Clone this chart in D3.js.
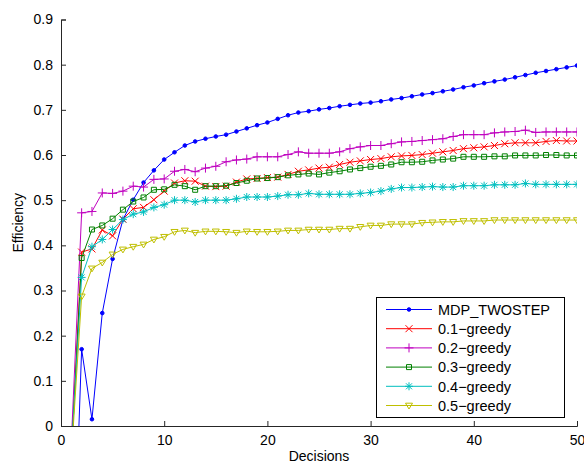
<!DOCTYPE html>
<html>
<head>
<meta charset="utf-8">
<script src="https://cdn.jsdelivr.net/npm/d3@7"></script>
<style>
  body { margin: 0; background: #fff; }
  text { font-family: "Liberation Sans", Arial, sans-serif; fill: #000; }
</style>
</head>
<body>
<script>
// x = decision number, 1..50
const decisions = d3.range(1, 51)
const xTicks = [0, 10, 20, 30, 40, 50]
const yTicks = [0, 0.1, 0.2, 0.3, 0.4, 0.5, 0.6, 0.7, 0.8, 0.9]

const seriesNames = ["MDP_TWOSTEP", "0.1\u2212greedy", "0.2\u2212greedy", "0.3\u2212greedy", "0.4\u2212greedy", "0.5\u2212greedy"]

const mdpTwostep = [-0.48, 0.17, 0.015, 0.25, 0.37, 0.457, 0.501, 0.539, 0.566, 0.590,
    0.606, 0.621, 0.630, 0.636, 0.641, 0.645, 0.652, 0.659, 0.666, 0.672,
    0.680, 0.688, 0.694, 0.697, 0.701, 0.704, 0.708, 0.711, 0.714, 0.716,
    0.719, 0.723, 0.726, 0.730, 0.734, 0.737, 0.741, 0.745, 0.750, 0.754,
    0.759, 0.763, 0.767, 0.772, 0.777, 0.782, 0.786, 0.790, 0.794, 0.798]
const greedy01 = [-0.07, 0.385, 0.392, 0.434, 0.421, 0.458, 0.481, 0.484, 0.501, 0.520,
    0.538, 0.543, 0.542, 0.531, 0.530, 0.531, 0.540, 0.547, 0.548, 0.550,
    0.551, 0.557, 0.564, 0.567, 0.571, 0.573, 0.579, 0.584, 0.587, 0.590,
    0.592, 0.596, 0.598, 0.599, 0.601, 0.604, 0.607, 0.610, 0.614, 0.616,
    0.618, 0.621, 0.625, 0.627, 0.627, 0.627, 0.630, 0.632, 0.631, 0.631]
const greedy02 = [-0.035, 0.472, 0.475, 0.516, 0.515, 0.520, 0.531, 0.529, 0.546, 0.547,
    0.564, 0.568, 0.563, 0.571, 0.575, 0.585, 0.589, 0.591, 0.596, 0.596,
    0.596, 0.601, 0.607, 0.604, 0.604, 0.604, 0.607, 0.614, 0.618, 0.621,
    0.621, 0.625, 0.629, 0.630, 0.632, 0.634, 0.636, 0.641, 0.645, 0.645,
    0.645, 0.649, 0.651, 0.652, 0.655, 0.650, 0.651, 0.651, 0.651, 0.651]
const greedy03 = [-0.07, 0.372, 0.435, 0.444, 0.459, 0.479, 0.497, 0.506, 0.523, 0.524,
    0.534, 0.531, 0.523, 0.531, 0.531, 0.532, 0.538, 0.543, 0.548, 0.549,
    0.551, 0.555, 0.557, 0.559, 0.557, 0.561, 0.564, 0.568, 0.571, 0.574,
    0.576, 0.579, 0.584, 0.584, 0.585, 0.588, 0.590, 0.592, 0.596, 0.596,
    0.596, 0.597, 0.597, 0.599, 0.599, 0.599, 0.600, 0.600, 0.599, 0.599]
const greedy04 = [-0.06, 0.329, 0.397, 0.413, 0.435, 0.457, 0.469, 0.474, 0.484, 0.490,
    0.500, 0.500, 0.496, 0.500, 0.500, 0.500, 0.503, 0.507, 0.507, 0.507,
    0.509, 0.512, 0.512, 0.515, 0.513, 0.513, 0.513, 0.513, 0.515, 0.517,
    0.520, 0.525, 0.528, 0.528, 0.529, 0.530, 0.529, 0.529, 0.532, 0.532,
    0.532, 0.534, 0.534, 0.534, 0.537, 0.535, 0.535, 0.535, 0.535, 0.535]
const greedy05 = [-0.07, 0.287, 0.349, 0.362, 0.380, 0.391, 0.397, 0.402, 0.413, 0.419,
    0.430, 0.433, 0.428, 0.431, 0.431, 0.430, 0.428, 0.431, 0.430, 0.430,
    0.431, 0.433, 0.433, 0.435, 0.435, 0.435, 0.437, 0.437, 0.441, 0.444,
    0.444, 0.447, 0.447, 0.447, 0.450, 0.451, 0.452, 0.452, 0.454, 0.454,
    0.454, 0.456, 0.456, 0.456, 0.456, 0.456, 0.456, 0.456, 0.456, 0.456]

const allValues = [mdpTwostep, greedy01, greedy02, greedy03, greedy04, greedy05]
const colors = ["#0000ff", "#ff0000", "#bf00bf", "#008000", "#00bfbf", "#bfbf00"]

// matlab style markers
const markers = [
    { path: "M-1.8,0a1.8,1.8 0 1,0 3.6,0a1.8,1.8 0 1,0 -3.6,0", fill: true },
    { path: "M-3.5,-3.5L3.5,3.5M-3.5,3.5L3.5,-3.5", fill: false },
    { path: "M-4.5,0H4.5M0,-4.5V4.5", fill: false },
    { path: "M-2.5,-2.5h5v5h-5z", fill: false },
    { path: "M-4,0H4M0,-4V4M-3,-3L3,3M-3,3L3,-3", fill: false },
    { path: "M-3.5,-2.3L3.5,-2.3L0,3.5Z", fill: false },
]

const width = 584
const height = 465
const margin = { left: 61, right: 7, top: 19.5, bottom: 39 }

const svg = d3.select("body")
    .append("svg")
    .attr("width", width)
    .attr("height", height)

const x = d3.scaleLinear().domain([0, 50]).range([margin.left, width - margin.right])
const y = d3.scaleLinear().domain([0, 0.9]).range([height - margin.bottom, margin.top])

svg.append("clipPath")
    .attr("id", "plot-clip")
    .append("rect")
    .attr("x", x(0))
    .attr("y", y(0.9))
    .attr("width", x(50) - x(0))
    .attr("height", y(0) - y(0.9))

const axisColor = "#262626"

const xAxis = svg.append("g")
    .attr("transform", `translate(0,${y(0)})`)
    .call(d3.axisBottom(x).tickValues(xTicks).tickSize(-5).tickPadding(9))
const yAxis = svg.append("g")
    .attr("transform", `translate(${x(0)},0)`)
    .call(d3.axisLeft(y).tickValues(yTicks).tickSize(-5).tickPadding(8).tickFormat(d3.format("")))

;[xAxis, yAxis].forEach((g) => {
    g.select(".domain").attr("stroke", axisColor)
    g.selectAll(".tick line").attr("stroke", axisColor)
    g.selectAll(".tick text")
        .attr("fill", "#000")
        .style("font-size", "14px")
        .style("font-family", "'Liberation Sans', Arial, sans-serif")
})

svg.append("text")
    .attr("x", (x(0) + x(50)) / 2)
    .attr("y", 461)
    .attr("text-anchor", "middle")
    .style("font-size", "14px")
    .text("Decisions")

svg.append("text")
    .attr("transform", `translate(23,${(y(0) + y(0.9)) / 2}) rotate(-90)`)
    .attr("text-anchor", "middle")
    .style("font-size", "14px")
    .text("Efficiency")

const plot = svg.append("g").attr("clip-path", "url(#plot-clip)")

allValues.forEach((vals, s) => {
    const pts = decisions.map((d, i) => [d, vals[i]])
    const line = d3.line()
        .x((d) => x(d[0]))
        .y((d) => y(d[1]))
    const g = plot.append("g")
    g.append("path")
        .attr("fill", "none")
        .attr("stroke", colors[s])
        .attr("stroke-width", 1)
        .attr("d", line(pts))
    g.selectAll("path.mk")
        .data(pts)
        .join("path")
        .attr("class", "mk")
        .attr("transform", (d) => `translate(${x(d[0])},${y(d[1])})`)
        .attr("d", markers[s].path)
        .attr("fill", markers[s].fill ? colors[s] : "none")
        .attr("stroke", colors[s])
        .attr("stroke-width", 1)
})

// legend
const legend = svg.append("g")
legend.append("rect")
    .attr("x", 376.5)
    .attr("y", 297.5)
    .attr("width", 188)
    .attr("height", 120)
    .attr("fill", "#fff")
    .attr("stroke", "#000")
    .attr("stroke-width", 1)

seriesNames.forEach((name, s) => {
    const ly = 309.5 + s * 19.2
    legend.append("line")
        .attr("x1", 386).attr("x2", 432)
        .attr("y1", ly).attr("y2", ly)
        .attr("stroke", colors[s])
        .attr("stroke-width", 1)
    legend.append("path")
        .attr("transform", `translate(409,${ly})`)
        .attr("d", markers[s].path)
        .attr("fill", markers[s].fill ? colors[s] : "none")
        .attr("stroke", colors[s])
    legend.append("text")
        .attr("x", 438)
        .attr("y", ly)
        .attr("dy", "0.36em")
        .style("font-size", "14.5px")
        .text(name)
})
</script>
</body>
</html>
